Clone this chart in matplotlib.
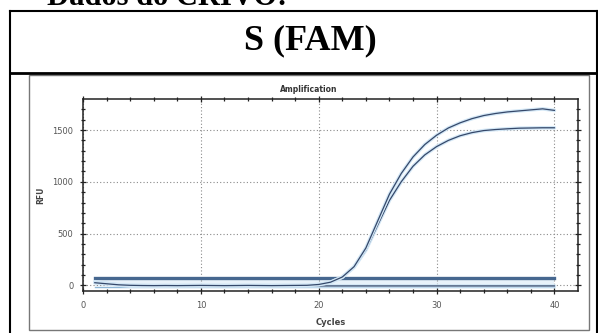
import numpy as np
import matplotlib
matplotlib.use("Agg")
import matplotlib.pyplot as plt
from matplotlib.lines import Line2D
from matplotlib.patches import Rectangle

# --- data ---
cycles = np.arange(1, 41)
rfu_a = [25, 15, 5, 0, -2, -3, -2, -3, -2, -1, -2, -3, -2, -1, -2, -3, -2, -1, 0, 8,
         30, 80, 180, 360, 620, 880, 1080, 1240, 1360, 1450, 1520, 1570, 1610, 1640,
         1660, 1675, 1685, 1695, 1705, 1690]
rfu_b = [30, 18, 6, 0, -2, -3, -3, -2, -2, -1, -2, -2, -3, -1, -2, -2, -2, -1, 0, 7,
         28, 78, 175, 340, 580, 820, 1000, 1150, 1260, 1340, 1400, 1445, 1475, 1495,
         1505, 1512, 1518, 1520, 1522, 1522]
rfu_neg = [35, 20, 2, -8, -8, -8, -8, -7, -6, -6, -6, -5, -6, -7, -6, -6, -6, -6, -6, -6,
           -6, -6, -6, -6, -6, -6, -6, -6, -6, -6, -6, -6, -6, -6, -6, -6, -6, -6, -6, -6]
threshold = 68
x_ticks = [0, 10, 20, 30, 40]
y_ticks = [0, 500, 1000, 1500]

W, H = 598, 333
fig = plt.figure(figsize=(W / 100, H / 100), dpi=100)
fig.patch.set_facecolor("white")

def fx(px): return px / W
def fy(py): return 1 - py / H

# document table frame
lk = dict(transform=fig.transFigure, color="black")
fig.add_artist(Line2D([fx(9.5), fx(597)], [fy(11), fy(11)], lw=1.5, **lk))
fig.add_artist(Line2D([fx(9.5), fx(597)], [fy(73), fy(73)], lw=2.0, **lk))
fig.add_artist(Line2D([fx(9.5), fx(9.5)], [fy(11), fy(333)], lw=1.5, **lk))
fig.add_artist(Line2D([fx(597), fx(597)], [fy(11), fy(333)], lw=1.5, **lk))
fig.add_artist(Rectangle((fx(29), fy(330)), fx(589) - fx(29), fy(75) - fy(330),
                         transform=fig.transFigure, fill=False, ec="#777777", lw=1.0))

# heading of the page above the table, only its lower edge is in view
fig.text(fx(47), fy(5), "Dados do CRIVO:", fontsize=22, fontweight="bold",
         family="Liberation Serif", ha="left", va="baseline")
fig.text(fx(310), fy(41), "S (FAM)", fontsize=26, fontweight="bold",
         family="Liberation Serif", ha="center", va="center")

ax = fig.add_axes([fx(83), fy(291), fx(578) - fx(83), fy(99) - fy(291)])
ax.set_xlim(0, 42)
ax.set_ylim(-55, 1800)

ax.grid(True, color="#8a8a8a", lw=0.8, linestyle=(0, (1, 2)))
ax.set_xticks(x_ticks)
ax.set_yticks(y_ticks)
ax.set_xticks(np.arange(0, 42, 2), minor=True)
ax.set_yticks(np.arange(0, 1800, 100), minor=True)
ax.tick_params(which="both", direction="inout", top=True, right=True,
               colors="#222222", labelcolor="#555555", labelsize=6, width=0.9)
ax.tick_params(which="major", length=4, pad=5)
ax.tick_params(which="minor", length=2.5)
for s in ax.spines.values():
    s.set_color("#222222")
    s.set_linewidth(1.1)

halo = "#d3e7f6"
dark = "#35486a"
# threshold band
ax.fill_between([1, 40], [-10, -10], [threshold, threshold], color="#e8f2fa", lw=0)
ax.plot([1, 40], [threshold, threshold], color="#46678f", lw=2.4)
ax.plot([1, 40], [-12, -12], color="#8fb8d8", lw=1.0)

for ys in (rfu_neg, rfu_b, rfu_a):
    ax.plot(cycles, ys, color=halo, lw=2.6, solid_capstyle="round")
    ax.plot(cycles, ys, color=dark, lw=0.9)

ax.set_title("Amplification", fontsize=5.5, fontweight="bold", color="#333333",
             x=(309 - 83) / (578 - 83), pad=5)
ax.set_xlabel("Cycles", fontsize=6, fontweight="bold", color="#444444", labelpad=6)
ax.set_ylabel("RFU", fontsize=5.5, fontweight="bold", color="#444444", labelpad=5)

fig.savefig("out.png", dpi=100)
